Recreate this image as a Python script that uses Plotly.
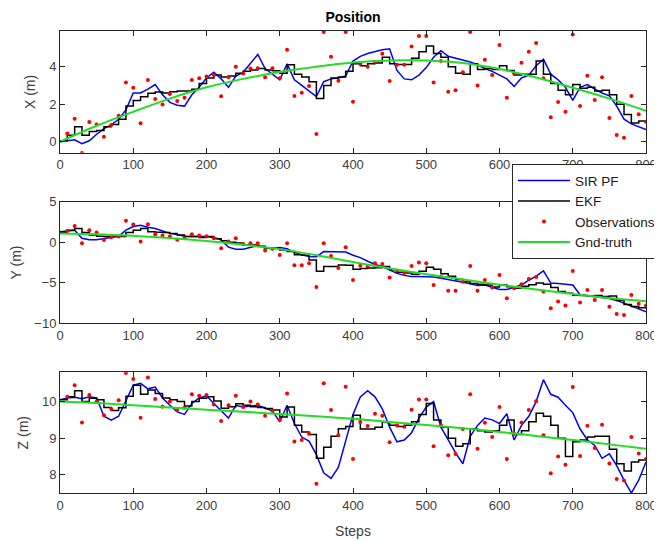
import plotly.graph_objects as go

# ---------------- data ----------------
steps10 = list(range(0, 801, 10))
obs_steps = list(range(10, 801, 10))
gt_steps = list(range(0, 801, 50))

# X (m)
x_pf = [0.0, 0.05, 0.1, -0.1, 0.05, 0.4, 0.7, 0.9, 1.2, 1.7,
        2.6, 2.6, 2.8, 3.05, 2.5, 2.1, 1.95, 1.9, 2.5, 2.9,
        3.4, 3.7, 3.35, 2.9, 3.5, 3.7, 4.2, 4.65, 3.9, 3.6,
        3.3, 4.15, 3.3, 3.0, 2.7, 2.4, 3.2, 3.35, 3.4, 3.5,
        4.3, 4.55, 4.7, 4.8, 4.9, 4.95, 3.8, 3.35, 3.3, 3.55,
        3.95, 4.5, 4.85, 4.55, 4.45, 4.35, 4.25, 4.1, 3.9, 3.75,
        3.55, 3.35, 2.95, 3.4, 3.55, 4.05, 4.4, 3.6, 3.3, 2.9,
        2.2, 2.9, 3.05, 2.8, 2.6, 2.45, 1.9, 1.2, 0.95, 0.8, 0.65]
x_ekf = [0.05, 0.35, 0.8, 0.35, 0.55, 0.6, 0.8, 0.92, 1.2, 1.9,
         2.2, 2.4, 2.58, 2.65, 2.6, 2.67, 2.7, 2.7, 2.8, 3.1,
         3.4, 3.55, 3.45, 3.5, 3.65, 3.75, 3.82, 3.9, 3.82, 3.78,
         3.65, 4.1, 3.6, 3.45, 3.2, 2.3, 3.0, 3.4, 3.45, 3.75,
         4.15, 4.05, 4.15, 4.2, 4.5, 4.15, 4.12, 4.12, 4.45, 4.8,
         5.1, 4.7, 4.5, 4.0, 3.65, 3.6, 4.15, 3.85, 3.9, 3.85,
         4.05, 3.8, 3.55, 3.6, 3.6, 4.3, 3.6, 3.1, 2.75, 2.5,
         3.05, 2.85, 2.9, 2.7, 2.75, 2.5, 2.0, 1.45, 1.0, 1.1, 1.05]
x_obs = [0.44, 1.23, -0.6, 1.05, 0.92, 0.27, 0.89, 1.39, 3.15, 2.88,
         0.98, 3.29, 2.28, 1.99, 2.54, 2.17, 2.35, 3.29, 3.38, 3.47,
         3.56, 2.42, 3.43, 4.0, 3.63, 3.9, 3.91, 3.43, 3.91, 3.38,
         4.9, 2.44, 2.61, 2.97, 0.41, 5.85, 4.53, 3.25, 5.85, 2.13,
         4.16, 4.0, 4.25, 4.69, 3.24, 4.1, 4.1, 5.07, 5.64, 5.64,
         3.16, 4.3, 2.67, 2.74, 3.7, 5.85, 3.0, 4.37, 3.56, 5.16,
         2.35, 3.64, 4.21, 4.8, 5.26, 3.38, 1.3, 2.12, 1.6, 5.72,
         1.9, 3.52, 2.22, 3.43, 1.26, 0.36, 0.21, 2.44, 1.46, 1.07]
x_gt = [0.0, 0.85, 1.6, 2.3, 2.9, 3.35, 3.72, 4.0, 4.22, 4.33,
        4.33, 4.2, 3.88, 3.42, 2.88, 2.3, 1.65]

# Y (m)
y_pf = [1.3, 1.4, 1.5, 0.5, 0.3, 0.3, 0.45, 0.65, 0.75, 1.5,
        1.95, 2.1, 1.85, 1.7, 1.4, 1.1, 0.95, 0.75, 0.7, 0.7,
        0.7, 0.6, 0.3, -0.6, -0.85, -0.85, -0.6, -0.4, -0.7, -0.8,
        -0.65, -0.8, -1.25, -1.55, -1.75, -1.8, -1.15, -1.15, -1.2, -1.2,
        -1.6, -1.9, -2.35, -2.75, -3.0, -3.45, -3.85, -4.1, -4.25, -4.25,
        -4.25, -4.3, -4.45, -4.6, -4.75, -4.95, -5.15, -5.35, -5.3, -5.6,
        -5.85, -5.85, -5.6, -5.3, -4.7, -4.2, -3.55, -5.05, -5.1, -5.2,
        -5.3, -6.5, -6.6, -6.7, -6.8, -6.95, -7.2, -7.6, -7.9, -8.25, -8.6]
y_ekf = [1.25, 1.5, 1.7, 1.2, 0.9, 0.75, 0.7, 0.8, 0.7, 1.2,
         1.5, 1.7, 1.3, 1.25, 1.2, 1.1, 0.9, 0.7, 0.7, 0.6,
         0.7, 0.45, 0.2, 0.0, -0.1, -0.3, -0.35, -0.5, -0.7, -0.75,
         -0.95, -1.15, -1.55, -1.6, -2.2, -3.6, -3.0, -3.0, -2.8, -2.85,
         -3.35, -3.25, -3.2, -3.15, -3.0, -3.4, -3.7, -3.8, -3.95, -3.6,
         -3.1, -3.35, -3.9, -4.2, -4.6, -4.9, -5.1, -5.2, -5.3, -5.55,
         -5.3, -5.5, -5.7, -5.45, -5.25, -5.05, -5.2, -5.6, -6.1, -6.3,
         -6.55, -6.6, -6.65, -6.6, -6.7, -6.65, -7.2, -7.7, -7.95, -8.1, -8.0]
y_obs = [1.4, 2.0, -0.12, 1.49, 1.2, 0.29, 0.62, 0.7, 2.68, 2.19,
         0.08, 2.23, 1.0, 0.83, 0.7, 0.3, 0.5, 1.0, 0.83, 0.74,
         0.5, -0.74, 0.08, 0.5, -0.2, -0.12, -0.12, -1.03, -0.8, -1.57,
         -0.12, -2.85, -2.85, -2.6, -5.53, -0.12, -1.69, -3.2, -0.62, -4.66,
         -2.9, -3.0, -2.6, -2.7, -4.37, -3.5, -3.8, -2.93, -2.52, -2.6,
         -5.28, -4.3, -6.0, -6.0, -4.9, -2.93, -6.0, -4.66, -5.6, -4.04,
         -6.93, -5.7, -5.2, -4.54, -4.3, -6.1, -8.17, -7.34, -7.84, -3.55,
         -7.47, -5.9, -7.14, -5.9, -8.0, -8.87, -9.0, -6.52, -7.6, -7.84]
y_gt = [1.1, 1.0, 0.8, 0.5, 0.15, -0.3, -0.85, -1.6, -2.45, -3.25,
        -3.95, -4.6, -5.25, -5.85, -6.4, -6.9, -7.3]

# Z (m)
z_pf = [10.05, 10.1, 10.12, 10.08, 10.13, 10.1, 9.6, 9.49, 9.6, 10.05,
        10.45, 10.5, 10.35, 10.4, 10.1, 9.9, 9.72, 9.65, 9.95, 10.1,
        10.16, 9.95, 9.75, 9.55, 9.9, 9.85, 9.88, 9.9, 9.82, 9.75,
        9.45, 9.9, 9.4, 9.03, 8.92, 8.55, 8.05, 7.9, 8.2, 8.9,
        9.65, 10.13, 10.3, 10.13, 9.8, 9.3, 8.9, 8.95, 9.15, 9.55,
        9.85, 10.0, 9.3, 8.95, 8.6, 8.3, 9.05, 9.35, 9.55, 9.5,
        9.4, 9.67, 8.95, 9.35, 9.6, 10.0, 10.6, 10.2, 10.12, 9.9,
        9.7, 9.25, 8.95, 8.8, 8.45, 8.57, 8.25, 7.85, 7.5, 7.85, 8.35]
z_ekf = [10.05, 10.13, 10.3, 10.0, 10.09, 10.05, 9.84, 9.76, 9.83, 10.15,
         10.45, 10.2, 10.32, 10.22, 10.1, 10.05, 10.0, 9.88, 10.0, 10.09,
         10.13, 10.02, 9.82, 9.86, 9.94, 9.9, 9.86, 9.84, 9.81, 9.77,
         9.58, 9.85, 9.35, 9.17, 9.1, 8.45, 8.75, 9.05, 9.26, 9.32,
         9.63, 9.25, 9.25, 9.3, 9.45, 9.35, 9.32, 9.35, 9.45, 9.65,
         9.95, 9.5, 9.3, 9.0, 8.78, 8.85, 9.25, 9.2, 9.17, 9.2,
         9.35, 9.5, 9.1, 9.2, 9.45, 9.68, 9.6, 9.35, 9.0, 8.5,
         8.9, 8.95, 9.03, 9.05, 9.05, 8.7, 8.3, 8.1, 8.35, 8.4, 8.38]
z_obs = [10.13, 10.45, 9.43, 10.18, 10.0, 9.63, 9.8, 10.04, 10.78, 10.62,
         9.56, 10.66, 10.07, 9.86, 10.0, 9.77, 9.83, 10.2, 10.16, 10.18,
         9.92, 9.47, 9.9, 10.16, 9.85, 10.0, 9.92, 9.61, 9.75, 9.5,
         10.22, 8.91, 8.95, 9.12, 7.75, 10.5, 9.77, 9.08, 10.41, 8.43,
         9.44, 9.33, 9.67, 9.61, 8.89, 9.35, 9.31, 9.78, 10.06, 10.06,
         8.78, 9.35, 8.53, 8.57, 9.25, 10.2, 8.71, 9.42, 9.03, 9.85,
         8.43, 9.12, 9.43, 9.77, 10.01, 9.08, 8.04, 8.5, 8.27, 10.4,
         8.51, 9.34, 8.73, 9.37, 8.31, 7.88, 7.84, 9.03, 8.58, 8.43]
z_gt = [10.0, 9.96, 9.9, 9.84, 9.78, 9.72, 9.66, 9.6, 9.53, 9.44,
        9.36, 9.27, 9.17, 9.06, 8.95, 8.83, 8.71]

x_ticks = [0, 100, 200, 300, 400, 500, 600, 700, 800]
panels = [
    ("X (m)", x_pf, x_ekf, x_obs, x_gt, [-0.59, 5.9], [0, 2, 4]),
    ("Y (m)", y_pf, y_ekf, y_obs, y_gt, [-10, 5], [-10, -5, 0, 5]),
    ("Z (m)", z_pf, z_ekf, z_obs, z_gt, [7.5, 10.8], [8, 9, 10]),
]

# ---------------- figure ----------------
FONT = "Liberation Sans, Arial, Helvetica, sans-serif"
TXT = "#404040"
AX = "#262626"
BLUE = "#0000ff"
BLACK = "#000000"
RED = "#ff0000"
GREEN = "#22dd22"

domains = [[0.7363, 1.0], [0.3679, 0.6301], [0.0, 0.2611]]

fig = go.Figure()
layout = dict(
    width=654, height=533,
    margin=dict(l=52, r=16, t=23, b=48, pad=0, autoexpand=False),
    paper_bgcolor="white", plot_bgcolor="white",
    font=dict(family=FONT, size=13, color=TXT),
    showlegend=True,
    legend=dict(x=0.7713, y=0.7118, xanchor="left", yanchor="top",
                bgcolor="white", bordercolor=AX, borderwidth=1,
                font=dict(family=FONT, size=13.5, color="#1a1a1a"),
                tracegroupgap=0, itemwidth=52),
    title=dict(text="<b>Position</b>", x=0.5, xref="paper", y=1 - 9 / 533,
               yref="container", yanchor="middle", xanchor="center",
               font=dict(family=FONT, size=14, color="#000000")),
)

for i, (lab, pf, ekf, obs, gt, yr, yt) in enumerate(panels):
    n = i + 1
    xa = "x" if n == 1 else f"x{n}"
    ya = "y" if n == 1 else f"y{n}"
    show = (i == 0)
    fig.add_trace(go.Scatter(x=steps10, y=pf, mode="lines", name="SIR PF",
                             line=dict(color=BLUE, width=1.5),
                             xaxis=xa, yaxis=ya, showlegend=show, legendgroup="pf"))
    fig.add_trace(go.Scatter(x=steps10, y=ekf, mode="lines", name="EKF",
                             line=dict(color=BLACK, width=1.5, shape="hv"),
                             xaxis=xa, yaxis=ya, showlegend=show, legendgroup="ekf"))
    fig.add_trace(go.Scatter(x=obs_steps, y=obs, mode="markers", name="Observations",
                             marker=dict(color=RED, size=4),
                             xaxis=xa, yaxis=ya, showlegend=show, legendgroup="obs"))
    fig.add_trace(go.Scatter(x=gt_steps, y=gt, mode="lines", name="Gnd-truth",
                             line=dict(color=GREEN, width=2, shape="spline"),
                             xaxis=xa, yaxis=ya, showlegend=show, legendgroup="gt"))
    xkey = "xaxis" if n == 1 else f"xaxis{n}"
    ykey = "yaxis" if n == 1 else f"yaxis{n}"
    layout[xkey] = dict(
        domain=[0, 1], anchor=ya, range=[0, 800], tickvals=x_ticks,
        ticks="inside", ticklen=5, tickcolor=AX, showline=True, linecolor=AX,
        linewidth=1, mirror="ticks", showgrid=False, zeroline=False,
        automargin=False, tickfont=dict(size=13, color=TXT),
        title=dict(text="Steps", font=dict(size=14, color=TXT), standoff=14) if n == 3 else None,
    )
    layout[ykey] = dict(
        domain=domains[i], anchor=xa, range=yr, tickvals=yt,
        ticks="inside", ticklen=5, tickcolor=AX, showline=True, linecolor=AX,
        linewidth=1, mirror="ticks", showgrid=False, zeroline=False,
        automargin=False, tickfont=dict(size=13, color=TXT),
        title=dict(text=lab, font=dict(size=14, color=TXT), standoff=10),
    )

fig.update_layout(**layout)
fig.write_html("out.html")
